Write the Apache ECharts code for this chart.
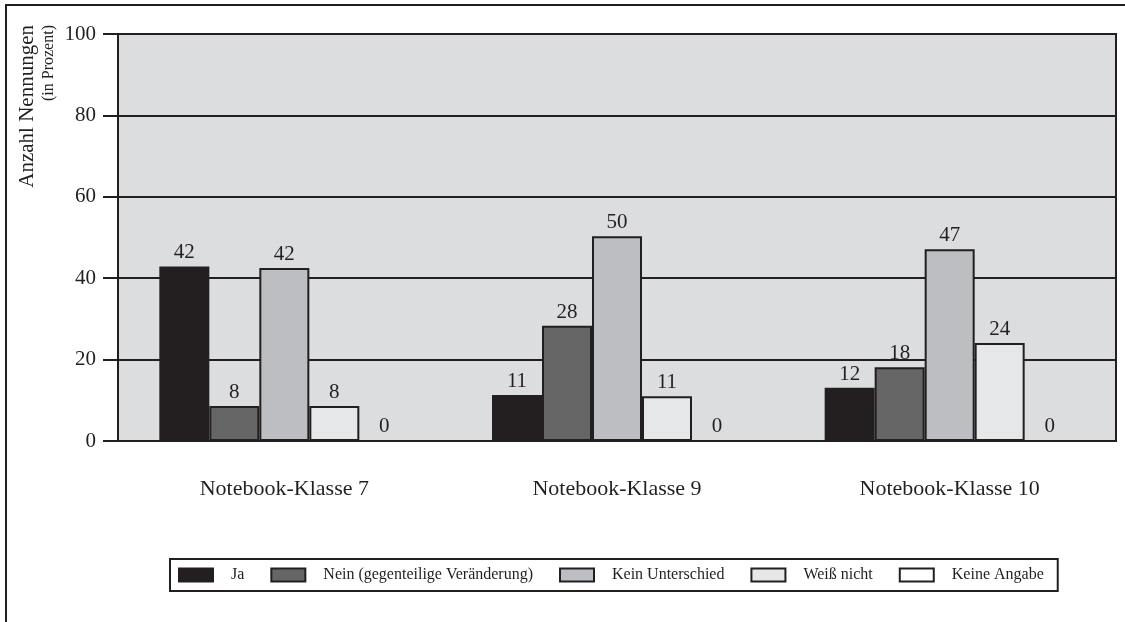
<!DOCTYPE html>
<html>
<head>
<meta charset="utf-8">
<script src="https://cdn.jsdelivr.net/npm/echarts@6/dist/echarts.min.js"></script>
<style>
  html, body { margin: 0; padding: 0; background: #fff; }
  #chart { width: 1125px; height: 622px; }
</style>
</head>
<body>
<div id="chart"></div>
<script>
  // Kategorien und Werte (Balkenhöhen wie im Bild, Beschriftung wie angegeben)
  var categories = ['Notebook-Klasse 7', 'Notebook-Klasse 9', 'Notebook-Klasse 10'];
  var seriesNames = ['Ja', 'Nein (gegenteilige Veränderung)', 'Kein Unterschied', 'Weiß nicht', 'Keine Angabe'];
  var valuesJa = [42.9, 11.3, 13.1];
  var valuesNein = [8.6, 28.3, 18.1];
  var valuesKein = [42.5, 50.3, 47.1];
  var valuesWeiss = [8.6, 11.0, 24.1];
  var valuesKeine = [0, 0, 0];
  var labelsJa = [42, 11, 12];
  var labelsNein = [8, 28, 18];
  var labelsKein = [42, 50, 47];
  var labelsWeiss = [8, 11, 24];
  var labelsKeine = [0, 0, 0];
  var yTicks = [0, 20, 40, 60, 80, 100];

  var ink = '#231f20';
  var serif = '"Liberation Serif", "DejaVu Serif", serif';
  var fills = ['#231f20', '#666666', '#bdbec1', '#e6e7e8', '#ffffff'];
  var allValues = [valuesJa, valuesNein, valuesKein, valuesWeiss, valuesKeine];
  var allLabels = [labelsJa, labelsNein, labelsKein, labelsWeiss, labelsKeine];

  var chart = echarts.init(document.getElementById('chart'));

  var series = seriesNames.map(function (name, i) {
    return {
      name: name,
      type: 'bar',
      barWidth: 50,
      barGap: '0%',
      data: allValues[i],
      itemStyle: {
        color: fills[i],
        borderColor: ink,
        borderWidth: 2
      },
      label: {
        show: true,
        position: 'top',
        distance: 3,
        fontFamily: serif,
        fontSize: 21,
        color: ink,
        formatter: function (p) { return allLabels[i][p.dataIndex]; }
      },
      z: 3
    };
  });

  chart.setOption({
    animation: false,
    backgroundColor: '#ffffff',
    grid: {
      left: 118,
      right: 9,
      top: 34,
      bottom: 181,
      show: true,
      backgroundColor: '#dcdddf',
      borderColor: ink,
      borderWidth: 2
    },
    legend: {
      data: seriesNames,
      left: 170,
      top: 559,
      orient: 'horizontal',
      itemWidth: 34,
      itemHeight: 13,
      itemGap: 26,
      padding: [8, 14, 8, 8],
      borderColor: ink,
      borderWidth: 2,
      icon: 'rect',
      textStyle: {
        fontFamily: serif,
        fontSize: 16,
        color: ink,
        padding: [0, 0, 0, 13]
      }
    },
    xAxis: {
      type: 'category',
      data: categories,
      axisLine: { show: true, lineStyle: { color: ink, width: 2 } },
      axisTick: { show: false },
      axisLabel: {
        margin: 37,
        fontFamily: serif,
        fontSize: 22,
        color: ink
      }
    },
    yAxis: {
      type: 'value',
      min: yTicks[0],
      max: yTicks[yTicks.length - 1],
      interval: 20,
      axisLine: { show: true, lineStyle: { color: ink, width: 2 } },
      axisTick: { show: true, inside: false, length: 15, lineStyle: { color: ink, width: 2 } },
      axisLabel: {
        margin: 22,
        fontFamily: serif,
        fontSize: 21,
        color: ink
      },
      splitLine: { show: true, lineStyle: { color: ink, width: 2 } }
    },
    graphic: [
      {
        type: 'rect',
        silent: true,
        shape: { x: 6, y: 5, width: 1200, height: 700 },
        style: { fill: 'none', stroke: ink, lineWidth: 2 }
      },
      {
        type: 'text',
        x: 27,
        y: 25,
        rotation: Math.PI / 2,
        style: {
          text: 'Anzahl Nennungen',
          font: '21px "Liberation Serif"',
          fill: ink,
          align: 'right',
          verticalAlign: 'middle'
        }
      },
      {
        type: 'text',
        x: 49,
        y: 25,
        rotation: Math.PI / 2,
        style: {
          text: '(in Prozent)',
          font: '16px "Liberation Serif"',
          fill: ink,
          align: 'right',
          verticalAlign: 'middle'
        }
      }
    ],
    series: series
  });
</script>
</body>
</html>
